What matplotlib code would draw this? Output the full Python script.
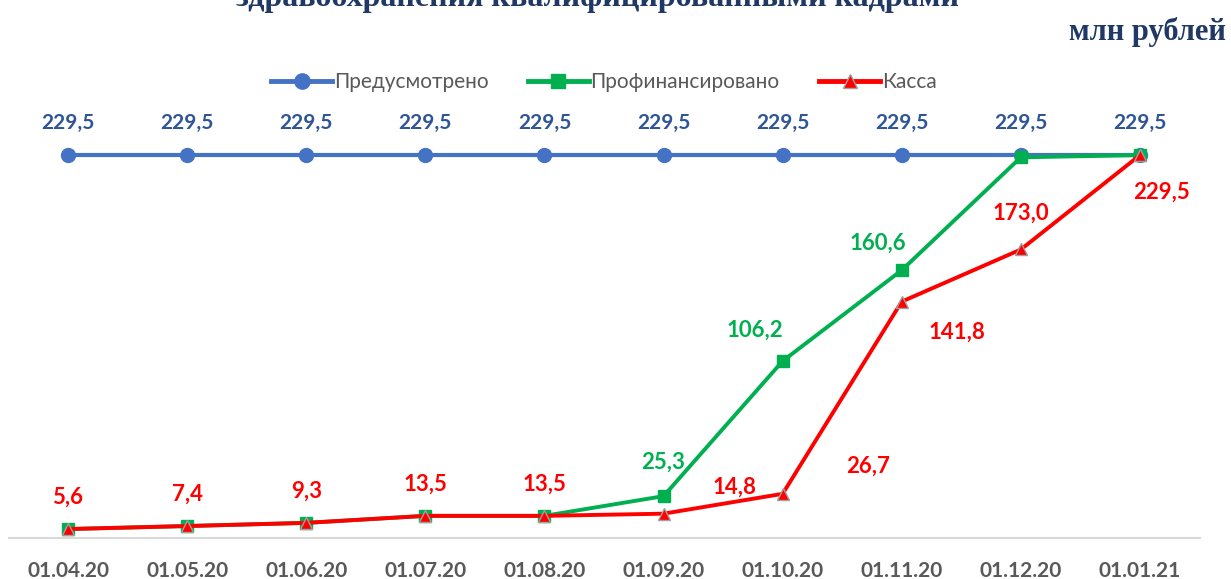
import matplotlib
matplotlib.use('Agg')
import matplotlib.pyplot as plt
from matplotlib.lines import Line2D

dates = ["01.04.20", "01.05.20", "01.06.20", "01.07.20", "01.08.20",
         "01.09.20", "01.10.20", "01.11.20", "01.12.20", "01.01.21"]
planned = [229.5] * 10
financed = [5.6, 7.4, 9.3, 13.5, 13.5, 25.3, 106.2, 160.6, 228.2, 229.5]
cash = [5.6, 7.4, 9.3, 13.5, 13.5, 14.8, 26.7, 141.8, 173.0, 229.5]

# label offsets in pixels (dx, dy)
cash_off = [(0, 32), (0, 32), (0, 32), (0, 32), (0, 32),
            (71, 26), (85, 28), (55, -31), (0, 36), (22, -37)]
fin_lbl = {5: (0, 34), 6: (-28, 31), 7: (-24, 27)}

BLUE = "#4472C4"
BLUE_TXT = "#2F5597"
GREEN = "#00B050"
RED = "#FF0000"
NAVY = "#1F3864"
FONT = "Lato"

fig = plt.figure(figsize=(12.31, 5.79), dpi=100)
ax = fig.add_axes([8.5 / 1231, 1 - 538.4 / 579, 1191 / 1231, 250 * 1.67 / 579])
x = list(range(len(dates)))

ax.plot(x, planned, color=BLUE, lw=3, marker="o", ms=10, zorder=2)
ax.plot(x, financed, color=GREEN, lw=2.8, marker="s", ms=9, zorder=3)
ax.plot(x, cash, color=RED, lw=2.8, marker="^", ms=9, mfc=RED,
        mec="#A0A0A0", mew=1, zorder=4)

for i, v in enumerate(planned):
    ax.annotate(f"{v:.1f}".replace(".", ","), (i, v), xytext=(0, 32),
                textcoords="offset pixels", ha="center", va="center",
                color=BLUE_TXT, fontsize=15, fontweight="bold", family=FONT)
for i, v in enumerate(cash):
    dx, dy = cash_off[i]
    ax.annotate(f"{v:.1f}".replace(".", ","), (i, v), xytext=(dx, dy),
                textcoords="offset pixels", ha="center", va="center",
                color=RED, fontsize=16, fontweight="bold", family=FONT, zorder=5)
for i, (dx, dy) in fin_lbl.items():
    ax.annotate(f"{financed[i]:.1f}".replace(".", ","), (i, financed[i]),
                xytext=(dx, dy), textcoords="offset pixels", ha="center",
                va="center", color=GREEN, fontsize=16, fontweight="bold",
                family=FONT, zorder=5)

ax.set_xlim(-0.5, 9.5)
ax.set_ylim(0, 250)
ax.set_xticks(x)
ax.set_xticklabels(dates, fontsize=15, fontweight="bold", color="#595959",
                   family=FONT)
ax.tick_params(axis="x", length=0, pad=16)
ax.set_yticks([])
for s in ["top", "right", "left"]:
    ax.spines[s].set_visible(False)
ax.spines["bottom"].set_color("#D9D9D9")
ax.spines["bottom"].set_linewidth(1.5)
ax.patch.set_alpha(0)

handles = [
    Line2D([], [], color=BLUE, lw=3.5, marker="o", ms=11),
    Line2D([], [], color=GREEN, lw=3.5, marker="s", ms=10),
    Line2D([], [], color=RED, lw=3.5, marker="^", ms=10, mec="#A0A0A0"),
]
leg = fig.legend(handles, ["Предусмотрено", "Профинансировано", "Касса"],
                 loc="center", bbox_to_anchor=(604 / 1231, 1 - 82 / 579),
                 ncol=3, frameon=False, handlelength=2.9, handletextpad=0.1,
                 columnspacing=1.9, prop={"family": FONT, "size": 15})
for t in leg.get_texts():
    t.set_color("#595959")

# the title is cut off at the top edge in the original picture
fig.text(598 / 1231, 1 - 6 / 579, "здравоохранения квалифицированными кадрами",
         ha="center", va="baseline", fontsize=23, fontweight="bold",
         family="Liberation Serif", color=NAVY)
fig.text(1226 / 1231, 1 - 32 / 579, "млн рублей", ha="right", va="center",
         fontsize=22, fontweight="bold", family="Liberation Serif", color=NAVY)

fig.savefig("out.png", dpi=100)
